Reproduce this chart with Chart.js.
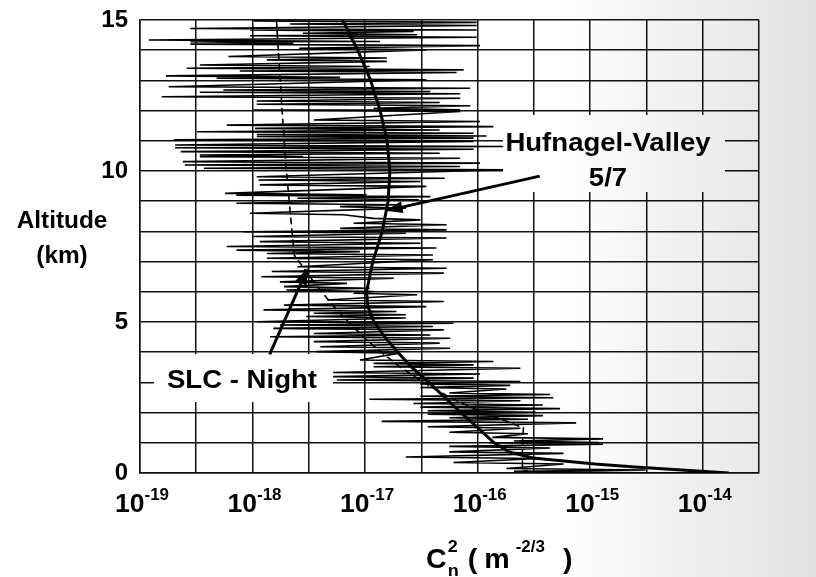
<!DOCTYPE html>
<html>
<head>
<meta charset="utf-8">
<script src="https://cdn.jsdelivr.net/npm/chart.js@4/dist/chart.umd.min.js"></script>
<style>
  html, body { margin: 0; padding: 0; background: #fff; }
  #wrap { width: 816px; height: 577px; }
</style>
</head>
<body>
<div id="wrap"><canvas id="cn2Chart" width="816" height="577"></canvas></div>
<script>
// grid lines on the log axis: every decade and half decade
const xGridVals = [1e-19, 3.16e-19, 1e-18, 3.16e-18, 1e-17, 3.16e-17, 1e-16, 3.16e-16, 1e-15, 3.16e-15, 1e-14, 3.16e-14];
const xTickVals = [1e-19, 1e-18, 1e-17, 1e-16, 1e-15, 1e-14];
const xTickExps = ['-19', '-18', '-17', '-16', '-15', '-14'];
const yTickLabels = [0, 5, 10, 15];

// Hufnagel-Valley 5/7 model
const hvAlt = [0, 0.1, 0.2, 0.3, 0.5, 0.7, 1, 1.5, 2, 2.5, 3, 3.5, 4, 4.5, 5, 5.5, 6, 7, 8, 9, 10, 11, 12, 13, 14, 15];
const hvCn2 = [1.7e-14, 6.5e-15, 2.5e-15, 1.1e-15, 3.1e-16, 1.9e-16, 1.4e-16, 1.0e-16, 7.1e-17, 5.1e-17, 3.7e-17, 2.6e-17,
               1.95e-17, 1.5e-17, 1.2e-17, 1.06e-17, 1.03e-17, 1.17e-17, 1.42e-17, 1.6e-17, 1.66e-17, 1.57e-17, 1.36e-17,
               1.12e-17, 8.6e-18, 6.3e-18];

// SLC - Night model (dashed)
const slcAlt = [15, 12, 10, 8, 7.2, 7, 6.5, 6, 5.5, 5, 4.5, 4, 3.5, 3, 2.5, 2, 1.5, 1, 0.5, 0.1, 0.07, 0.07];
const slcCn2 = [1.63e-18, 1.83e-18, 2.0e-18, 2.24e-18, 2.36e-18, 2.59e-18, 3.23e-18, 4.1e-18, 5.33e-18, 7.1e-18, 9.7e-18,
                1.39e-17, 2.07e-17, 3.29e-17, 5.68e-17, 1.11e-16, 2.55e-16, 2.5e-16, 2.5e-16, 2.5e-16, 2.5e-16, 2.8e-16];

// measured profile: altitude (km), left and right end of each spike
const spikeAlt = [
    14.97, 14.87, 14.72, 14.67, 14.56, 14.48, 14.34, 14.28, 14.2, 14.06, 13.79, 13.68, 13.51, 13.4, 13.31, 13.15,
    13.07, 12.79, 12.68, 12.61, 12.46, 12.32, 12.21, 12.08, 12.02, 11.69, 11.52, 11.41, 11.3, 11.21, 11.14, 11.03,
    10.86, 10.77, 10.64, 10.53, 10.47, 10.31, 10.2, 10.09, 9.81, 9.7, 9.54, 9.26, 9.2, 9.1, 8.93, 8.82,
    8.6, 8.43, 8.27, 8.1, 7.99, 7.83, 7.66, 7.5, 7.38, 7.27, 7.11, 6.83, 6.67, 6.5, 6.33, 6.17,
    6.06, 5.95, 5.73, 5.56, 5.4, 5.29, 5.18, 5.01, 4.9, 4.79, 4.62, 4.51, 4.35, 4.18, 4.02, 3.74,
    3.63, 3.52, 3.33, 3.19, 3.08, 2.95, 2.83, 2.65, 2.54, 2.44, 2.3, 2.18, 2.06, 1.95, 1.83, 1.71,
    1.53, 1.35, 1.18, 1.06, 1.0, 0.88, 0.7, 0.53, 0.35, 0.15, 0.06, 0.0];
const spikeLow = [
    1.02e-18, 2.15e-18, 2.8e-19, 9.5e-19, 2.8e-18, 9.5e-19, 1.2e-19, 2.8e-19, 2.8e-19, 2.6e-18, 6.1e-19, 1.34e-18, 3.4e-19, 2.6e-19, 7.7e-19, 1.7e-19,
    4.8e-19, 1.8e-19, 5.5e-19, 3.4e-19, 1.56e-19, 1.09e-18, 1.09e-18, 1.19e-17, 1.02e-18, 3.5e-18, 5.9e-19, 1.05e-18, 3.2e-19, 1.09e-18, 1.09e-18, 2.0e-19,
    2.05e-19, 2.05e-19, 2.3e-19, 3.4e-19, 3.4e-19, 2.4e-19, 2.5e-19, 3.7e-19, 1.09e-18, 1.13e-18, 1.16e-18, 5.7e-19, 7.2e-19, 2.5e-18, 7.2e-19, 6.0e-18,
    9.5e-19, 1.19e-17, 7.9e-18, 6.0e-18, 8.3e-19, 1.02e-18, 1.16e-18, 5.9e-19, 7.2e-19, 1.34e-18, 1.34e-18, 2.5e-18, 1.48e-18, 1.2e-18, 1.75e-18, 1.9e-18,
    2.0e-18, 7.9e-18, 4.6e-18, 1.9e-18, 1.25e-18, 3.5e-18, 3.0e-18, 1.09e-18, 1.75e-18, 1.53e-18, 3.5e-18, 1.43e-18, 3.5e-18, 4.0e-18, 3.7e-18, 9.0e-18,
    1.19e-17, 1.19e-17, 5.2e-18, 5.2e-18, 5.6e-18, 3.1e-17, 3.1e-17, 5.6e-17, 3.1e-17, 1.09e-17, 2.7e-17, 3.1e-17, 3.6e-17, 3.6e-17, 5.6e-17, 1.4e-17,
    3.6e-17, 5.6e-17, 1.35e-16, 2.1e-16, 1.26e-16, 5.6e-17, 5.6e-17, 2.3e-17, 6.1e-17, 1.8e-16, 2.1e-16, 3.3e-16];
const spikeHigh = [
    9.8e-17, 9.8e-17, 9.8e-17, 2.7e-17, 2.9e-17, 9.8e-17, 1.36e-17, 2.3e-18, 1.05e-16, 3.5e-17, 1.56e-17, 1.56e-17, 1.1e-17, 7.5e-17, 6.5e-17, 6.0e-18,
    3.5e-17, 8.6e-17, 3.8e-17, 7.0e-17, 7.0e-17, 4.6e-17, 8.6e-17, 7.0e-17, 7.0e-17, 1.05e-16, 1.38e-16, 4.6e-17, 9.2e-17, 1.2e-16, 9.2e-17, 9.2e-17,
    1.8e-16, 9.2e-17, 4.6e-17, 2.8e-18, 7.0e-17, 1.05e-16, 7.0e-17, 1.75e-16, 5.1e-17, 3.1e-17, 3.5e-17, 1.03e-17, 3.8e-17, 3.0e-17, 1.9e-17, 2.3e-17,
    6.4e-18, 3.1e-17, 5.3e-17, 5.3e-17, 2.3e-17, 5.3e-17, 3.1e-17, 4.3e-17, 9.0e-18, 4.0e-17, 4.0e-17, 5.3e-17, 5.0e-17, 1.8e-17, 6.9e-18, 1.1e-17,
    1.19e-17, 2.9e-17, 5.0e-17, 3.5e-17, 1.9e-17, 2.3e-17, 2.3e-17, 6.1e-17, 4.0e-17, 5.0e-17, 3.8e-17, 5.7e-17, 4.6e-17, 5.7e-17, 2.0e-17, 1.38e-16,
    9.2e-17, 2.4e-16, 1.05e-16, 9.2e-17, 2.4e-16, 1.95e-16, 1.8e-16, 4.4e-16, 4.7e-16, 2.4e-16, 3.8e-16, 5.4e-16, 3.3e-16, 3.8e-16, 2.8e-16, 7.5e-16,
    2.4e-16, 2.8e-16, 1.3e-15, 1.2e-15, 1.3e-15, 4.4e-16, 5.8e-16, 3.5e-16, 5.8e-16, 3.1e-15, 2.9e-15, 1.2e-14];

function buildProfile() {
    let pts = [];
    spikeAlt.forEach((h, i) => {
        pts.push({x: spikeLow[i], y: h});
        pts.push({x: spikeHigh[i], y: Math.max(h - 0.05, 0)});
    });
    return pts;
}

const FONT = '"Liberation Sans", Arial, Helvetica, sans-serif';

function paintBackground(ctx, x, y, w, h) {
    let g = ctx.createLinearGradient(560, 0, 816, 0);
    g.addColorStop(0, '#ffffff');
    g.addColorStop(0.3, '#f5f5f5');
    g.addColorStop(1, '#e2e2e2');
    ctx.fillStyle = g;
    ctx.fillRect(x, y, w, h);
}

function text(ctx, s, x, y, size, align) {
    ctx.save();
    ctx.font = `bold ${size}px ${FONT}`;
    ctx.fillStyle = '#000';
    ctx.textAlign = align || 'left';
    ctx.textBaseline = 'alphabetic';
    ctx.translate(x, y);
    ctx.scale(1.06, 1);
    ctx.fillText(s, 0, 0);
    ctx.restore();
}

function textWidth(ctx, s, size) {
    ctx.save();
    ctx.font = `bold ${size}px ${FONT}`;
    let w = ctx.measureText(s).width * 1.06;
    ctx.restore();
    return w;
}

function arrow(ctx, x0, y0, x1, y1) {
    let ang = Math.atan2(y1 - y0, x1 - x0);
    let len = 17, half = 6;
    let bx = x1 - len * Math.cos(ang), by = y1 - len * Math.sin(ang);
    ctx.save();
    ctx.strokeStyle = '#000';
    ctx.fillStyle = '#000';
    ctx.lineWidth = 3;
    ctx.beginPath();
    ctx.moveTo(x0, y0);
    ctx.lineTo(bx, by);
    ctx.stroke();
    ctx.beginPath();
    ctx.moveTo(x1, y1);
    ctx.lineTo(bx + half * Math.sin(ang), by - half * Math.cos(ang));
    ctx.lineTo(bx - half * Math.sin(ang), by + half * Math.cos(ang));
    ctx.closePath();
    ctx.fill();
    ctx.restore();
}

const backgroundPlugin = {
    id: 'scanBackground',
    beforeDraw(chart) {
        let ctx = chart.ctx;
        ctx.save();
        ctx.fillStyle = '#fff';
        ctx.fillRect(0, 0, chart.width, chart.height);
        paintBackground(ctx, 0, 0, chart.width, chart.height);
        ctx.restore();
    }
};

const notesPlugin = {
    id: 'notes',
    afterDatasetsDraw(chart) {
        let ctx = chart.ctx;
        let xs = chart.scales.x, ys = chart.scales.y;

        // label boxes hide the grid behind them
        paintBackground(ctx, 503, 115, 222, 77);
        paintBackground(ctx, 154, 354, 179, 48);

        text(ctx, 'Hufnagel-Valley', 608, 151, 26, 'center');
        text(ctx, '5/7', 608, 186, 26, 'center');
        text(ctx, 'SLC - Night', 242, 388, 26, 'center');

        arrow(ctx, xs.getPixelForValue(3.56e-16), ys.getPixelForValue(9.83),
                   xs.getPixelForValue(1.52e-17), ys.getPixelForValue(8.68));
        arrow(ctx, xs.getPixelForValue(1.42e-18), ys.getPixelForValue(3.93),
                   xs.getPixelForValue(3.1e-18), ys.getPixelForValue(6.8));
    },
    afterDraw(chart) {
        let ctx = chart.ctx;
        let xs = chart.scales.x;

        // x tick labels as powers of ten
        xTickVals.forEach((v, i) => {
            let px = xs.getPixelForValue(v);
            let w10 = textWidth(ctx, '10', 25);
            let wExp = textWidth(ctx, xTickExps[i], 16);
            let start = px - (w10 + wExp) / 2 + 2;
            text(ctx, '10', start, 512, 25);
            text(ctx, xTickExps[i], start + w10, 500, 16);
        });

        // y axis title
        text(ctx, 'Altitude', 62, 228, 23, 'center');
        text(ctx, '(km)', 62, 263, 23, 'center');

        // x axis title: Cn2 ( m-2/3 )
        let x = 426;
        text(ctx, 'C', x, 568, 27);
        x += textWidth(ctx, 'C', 27) + 1;
        text(ctx, '2', x, 552, 17);
        text(ctx, 'n', x, 576, 17);
        x += textWidth(ctx, 'n', 17) + 9;
        text(ctx, '(', x, 568, 27);
        x += textWidth(ctx, '(', 27) + 7;
        text(ctx, 'm', x, 568, 27);
        x += textWidth(ctx, 'm', 27) + 6;
        text(ctx, '-2/3', x, 552, 16);
        x += textWidth(ctx, '-2/3', 16) + 18;
        text(ctx, ')', x, 568, 27);
    }
};

let canvas = document.getElementById('cn2Chart').getContext('2d');
let cn2Chart = new Chart(canvas, {
    type: 'scatter',
    data: {
        datasets: [{
            label: 'Measured',
            data: buildProfile(),
            showLine: true,
            borderColor: '#000',
            borderWidth: 1.6,
            pointRadius: 0
        }, {
            label: 'SLC - Night',
            data: slcAlt.map((h, i) => ({x: slcCn2[i], y: h})),
            showLine: true,
            borderColor: '#000',
            borderWidth: 1.6,
            borderDash: [7, 4],
            pointRadius: 0
        }, {
            label: 'Hufnagel-Valley 5/7',
            data: hvAlt.map((h, i) => ({x: hvCn2[i], y: h})),
            showLine: true,
            borderColor: '#000',
            borderWidth: 3,
            pointRadius: 0
        }]
    },
    options: {
        responsive: false,
        animation: false,
        devicePixelRatio: 1,
        layout: { padding: { left: 0, right: 57, top: 20, bottom: 0 } },
        plugins: {
            legend: { display: false },
            tooltip: { enabled: false }
        },
        scales: {
            x: {
                type: 'logarithmic',
                min: 1e-19,
                max: 3.16e-14,
                afterBuildTicks: axis => { axis.ticks = xGridVals.map(v => ({ value: v })); },
                afterFit: axis => { axis.height = 104; axis.paddingLeft = 0; axis.paddingRight = 0; },
                ticks: { display: false },
                grid: { color: '#111', lineWidth: 1.5, drawTicks: false },
                border: { display: true, color: '#111', width: 1.5 }
            },
            y: {
                min: 0,
                max: 15,
                afterFit: axis => { axis.width = 140; axis.paddingTop = 0; axis.paddingBottom = 0; },
                ticks: {
                    stepSize: 1,
                    autoSkip: false,
                    padding: 12,
                    color: '#000',
                    font: { family: FONT, size: 24, weight: 'bold' },
                    callback: v => yTickLabels.includes(v) ? v : ''
                },
                grid: { color: '#111', lineWidth: 1.5, drawTicks: false },
                border: { display: true, color: '#111', width: 1.5 }
            }
        }
    },
    plugins: [backgroundPlugin, notesPlugin]
});
</script>
</body>
</html>
